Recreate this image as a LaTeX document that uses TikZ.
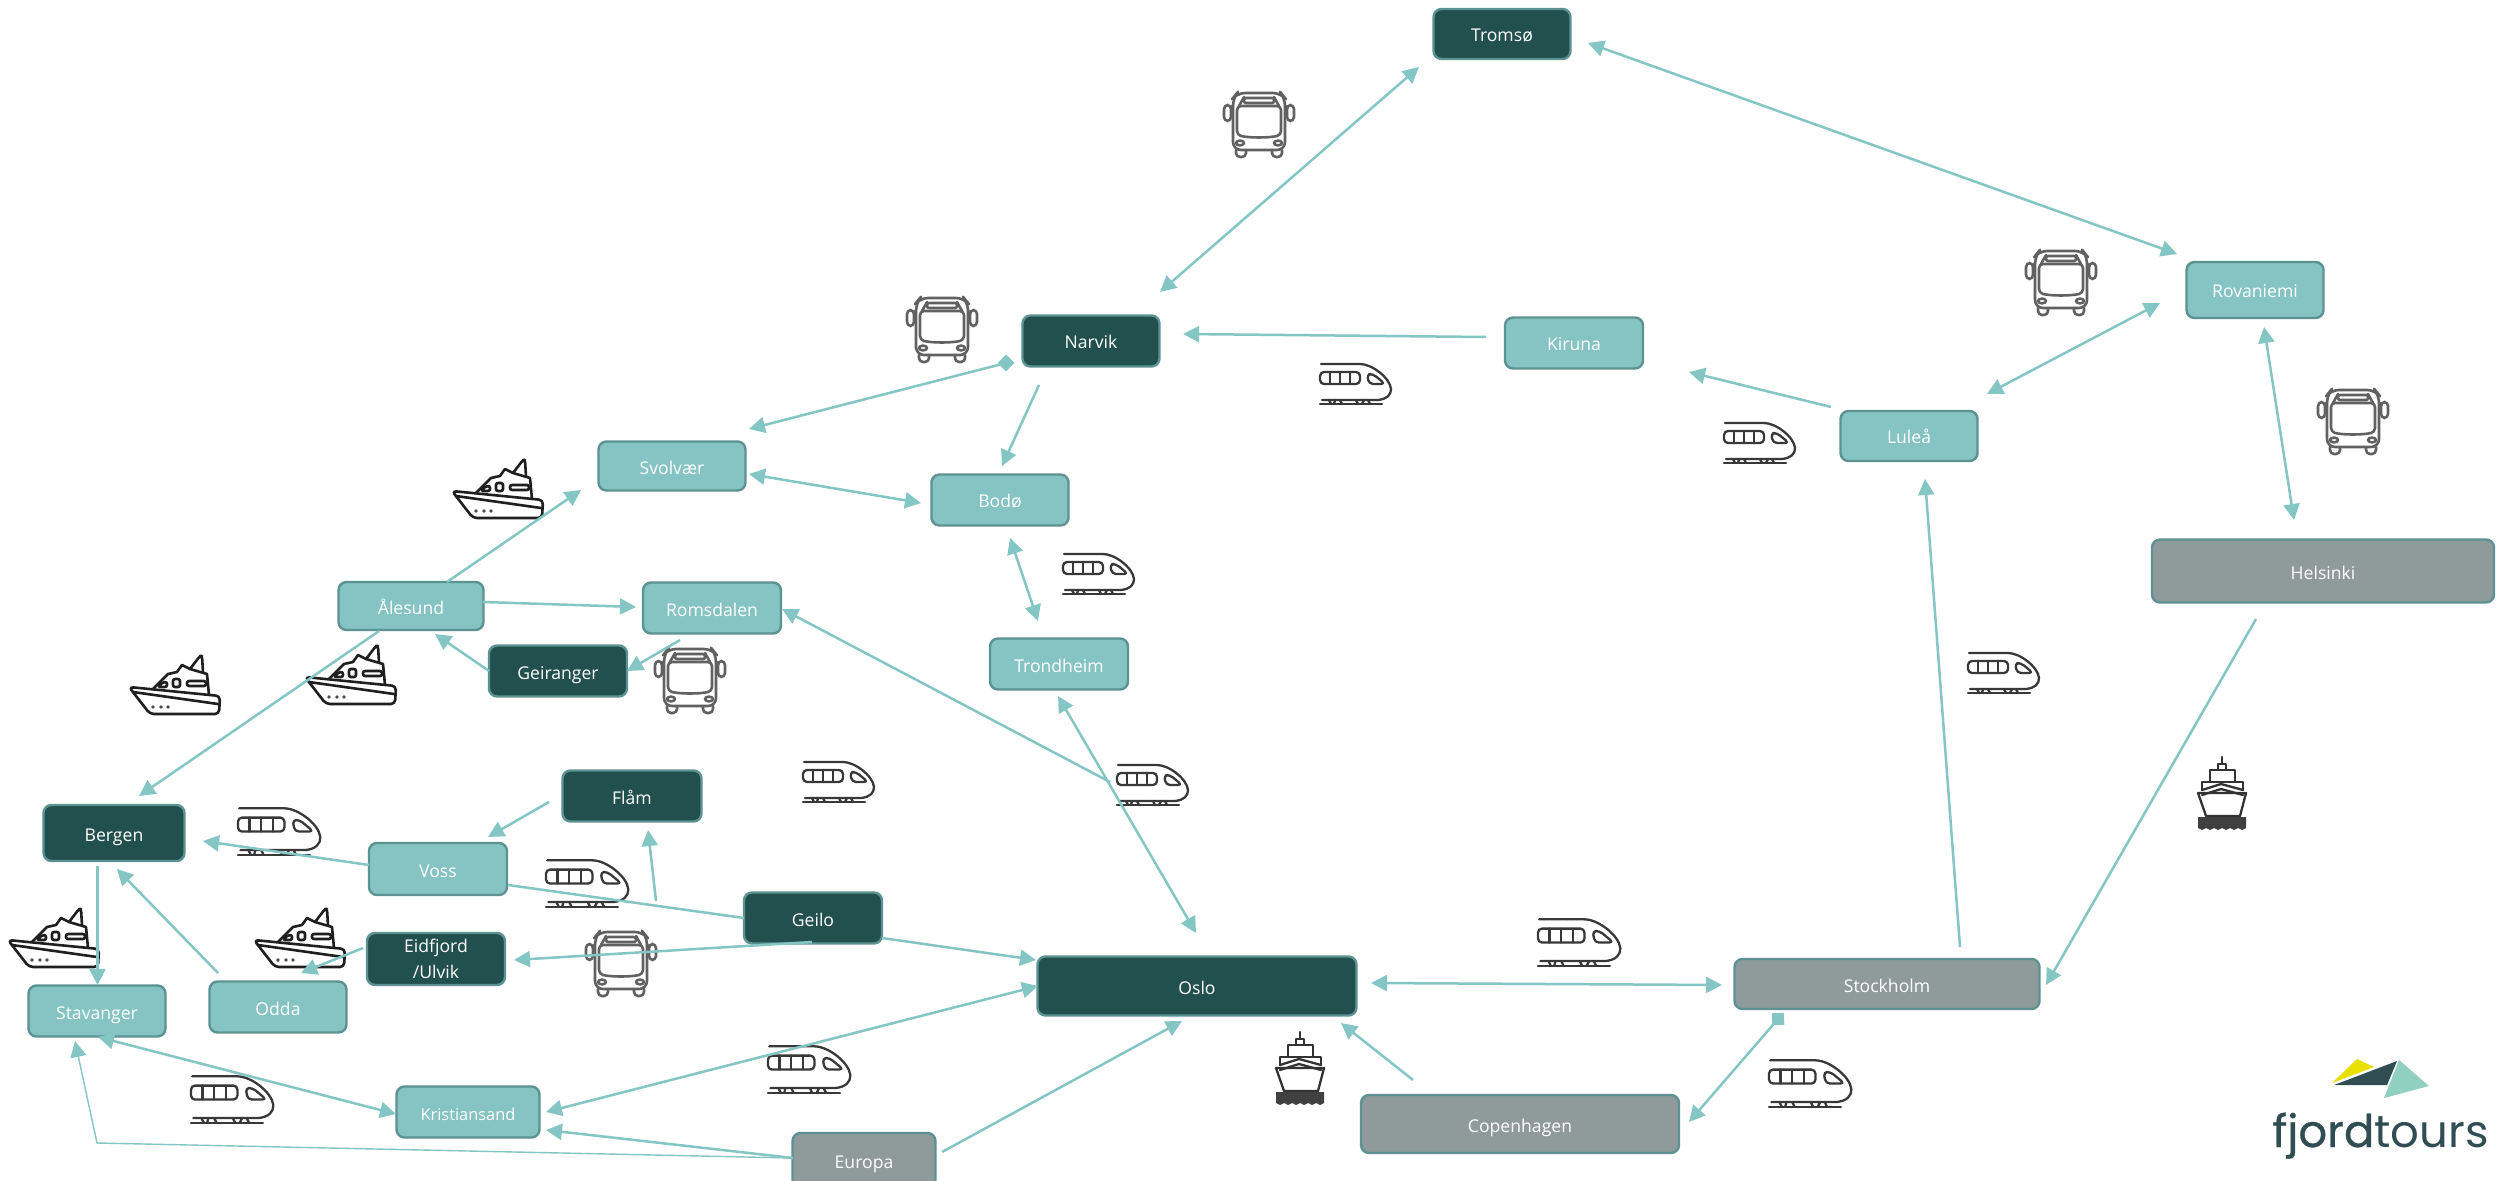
\documentclass[tikz,border=0pt]{standalone}
\usepackage{fontspec}
\setmainfont{Open Sans}
\newfontfamily\logoreg{Poppins}
\newfontfamily\logobold[FakeBold=0.6]{Poppins}
\usetikzlibrary{arrows.meta}
\definecolor{linkc}{HTML}{84C6C4}
\definecolor{darkf}{HTML}{22504F}
\definecolor{tealf}{HTML}{85C4C2}
\definecolor{greyf}{HTML}{8F9A9B}
\definecolor{edgec}{HTML}{5C9392}
\definecolor{logod}{HTML}{2F4D52}
\definecolor{logoy}{HTML}{E8E000}
\definecolor{logot}{HTML}{90D0C0}
\tikzset{
  box/.style 2 args={minimum width=#1*0.5pt,minimum height=#2*0.5pt},
  city/.style={draw=edgec,line width=1.2pt,rounded corners=4pt,inner sep=0pt,text=white,align=center,text height=8pt,text depth=0pt,font=\fontsize{8.8}{13}\selectfont},
  citydark/.style={city,fill=darkf},
  cityteal/.style={city,fill=tealf},
  citygrey/.style={city,fill=greyf},
  link/.style={draw=linkc,line width=1.25pt},
  oneway/.style={link,-{Triangle[length=8pt,width=8pt]}},
  twoway/.style={link,{Triangle[length=8pt,width=8pt]}-{Triangle[length=8pt,width=8pt]}},
  icon/.style={line width=1.15pt,line join=round,line cap=round,fill=none},
  pics/trainicon/.style={code={
    \begin{scope}[icon,draw=black!78]
      \draw (1,2) -- (40,2) .. controls (52,2) and (70,16) .. (71,27) .. controls (71,33) and (67,37) .. (58,38) -- (2,38);
      \draw[rounded corners=2pt] (0,10) rectangle (40,22);
      \draw (10,10) -- (10,22) (20,10) -- (20,22) (30,10) -- (30,22);
      \draw[rounded corners=2pt] (47,12) -- (53,12) -- (65,22) -- (49,22) -- cycle;
      \draw (0,42) -- (62,42);
      \draw (9,38) -- (11,42) (15,38) -- (14,42) (20,38) -- (22,42) (36,38) -- (38,42) (44,38) -- (42,42) (48,38) -- (50,42);
    \end{scope}}},
  pics/busicon/.style={code={
    \begin{scope}[icon,draw=black!62,line width=1.3pt]
      \draw[rounded corners=4pt] (9,58) -- (9,6) -- (13,1) -- (57,1) -- (61,6) -- (61,58) -- cycle;
      \draw[rounded corners=2pt] (0,13) rectangle (7,29);
      \draw[rounded corners=2pt] (63,13) rectangle (70,29);
      \draw (7,17) -- (9,13) (63,17) -- (61,13);
      \draw[rounded corners=1pt] (20,6) rectangle (50,11);
      \draw[rounded corners=2pt] (13,14) -- (57,14) -- (57,43) .. controls (45,46) and (25,46) .. (13,43) -- cycle;
      \draw (15,14) -- (20,5) (55,14) -- (50,5);
      \draw (16,51) ellipse (4 and 2.4);
      \draw (54,51) ellipse (4 and 2.4);
      \draw[rounded corners=2pt] (12,58) -- (12,65) -- (22,65) -- (22,58);
      \draw[rounded corners=2pt] (48,58) -- (48,65) -- (58,65) -- (58,58);
    \end{scope}}},
  pics/boaticon/.style={code={
    \begin{scope}[icon,draw=black!88,line width=1.3pt]
      \draw[rounded corners=2pt] (0,33) -- (91,42) -- (90,60) -- (21,60) -- cycle;
      \draw (4,38) -- (89,50);
      \draw (24,35) -- (39,20) -- (48,18) -- (53,11) -- (61,15) -- (78,20) -- (80,41);
      \draw[rounded corners=1pt] (61,15) -- (71,2) -- (73,2) -- (74,18);
      \draw[rounded corners=1pt] (29,33) -- (34,28) -- (38,28) -- (38,33) -- cycle;
      \draw[rounded corners=1pt] (44,25) rectangle (51,33);
      \draw[rounded corners=1pt] (58,27) rectangle (77,32);
      \fill[black!70] (24,53) circle (1.8) (32,53) circle (1.8) (39,53) circle (1.8);
    \end{scope}}},
  pics/linericon/.style={code={
    \begin{scope}[icon,draw=black!80]
      \draw (24,0) -- (24,7);
      \draw (20,13) -- (20,7) -- (28,7) -- (28,13);
      \draw (12,25) -- (12,13) -- (37,13) -- (37,25);
      \draw (4,33) -- (4,25) -- (45,25) -- (45,33);
      \draw (4,33) -- (23,27) -- (45,33);
      \draw (4,38) -- (23,32) -- (45,38);
      \draw (0,36) -- (48,36) -- (42,59) -- (8,59) -- cycle;
      \fill[black!75] (0,60) -- (48,60) -- (48,71) -- (44,73) -- (40,71) -- (36,73) -- (32,71) -- (28,73) -- (24,71) -- (20,73) -- (16,71) -- (12,73) -- (8,71) -- (4,73) -- (0,71) -- cycle;
    \end{scope}}},
}
\begin{document}
\begin{tikzpicture}[x=0.5pt,y=-0.5pt]
\useasboundingbox (0,0) rectangle (2503,1181);
\fill[white] (0,0) rectangle (2503,1181);

% icons
\foreach \px/\py in {1320/362,1724/421,1063/552,1968/651,1117/763,803/760}{\pic at (\px,\py) {trainicon};}
\foreach \px/\py in {238/806,546/858,191/1074,768/1044,1538/917,1769/1058}{\pic[scale=1.16] at (\px,\py) {trainicon};}
\foreach \px/\py in {1224/92,907/297,2026/250,2318/389,655/648,586/931}{\pic at (\px,\py) {busicon};}
\foreach \px/\py in {452/458,129/654,305/644,8/907,254/907}{\pic at (\px,\py) {boaticon};}
\foreach \px/\py in {2198/757,1276/1032}{\pic at (\px,\py) {linericon};}

% cities
\node[citydark,box={137}{50}] (tromso) at (1502,34) {Tromsø};
\node[citydark,box={137}{51}] (narvik) at (1091,341) {Narvik};
\node[cityteal,box={138}{51}] (kiruna) at (1574,343) {Kiruna};
\node[cityteal,box={137}{56}] (rovaniemi) at (2255,290) {Rovaniemi};
\node[cityteal,box={137}{50}] (lulea) at (1909,436) {Luleå};
\node[citygrey,box={342}{63}] (helsinki) at (2323,571) {Helsinki};
\node[cityteal,box={147}{49}] (svolvaer) at (672,466) {Svolvær};
\node[cityteal,box={137}{51}] (bodo) at (1000,500) {Bodø};
\node[cityteal,box={145}{48}] (alesund) at (411,606) {Ålesund};
\node[cityteal,box={138}{51}] (romsdalen) at (712,608) {Romsdalen};
\node[citydark,box={138}{51}] (geiranger) at (558,671) {Geiranger};
\node[citydark,box={139}{51}] (flam) at (632,796) {Flåm};
\node[citydark,box={141}{56}] (bergen) at (114,833) {Bergen};
\node[cityteal,box={138}{52}] (voss) at (438,869) {Voss};
\node[citydark,box={138}{52},text height={},text depth={}] (eidfjord) at (436,959) {Eidfjord\\/Ulvik};
\node[cityteal,box={137}{51}] (odda) at (278,1007) {Odda};
\node[cityteal,box={137}{51}] (stavanger) at (97,1011) {Stavanger};
\node[cityteal,box={143}{51},font=\fontsize{8.2}{13}\selectfont] (kristiansand) at (468,1112) {Kristiansand};
\node[citydark,box={138}{51}] (geilo) at (813,918) {Geilo};
\node[citydark,box={319}{59}] (oslo) at (1197,986) {Oslo};
\node[citygrey,box={143}{54}] (europa) at (864,1160) {Europa};
\node[citygrey,box={318}{58}] (copenhagen) at (1520,1124) {Copenhagen};
\node[citygrey,box={305}{50}] (stockholm) at (1887,984) {Stockholm};
\node[cityteal,box={138}{51}] (trondheim) at (1059,664) {Trondheim};

% connectors
\coordinate (southbend) at (97,1143);
\draw[twoway] ([shift={(69,-49)}]narvik.center) -- ([shift={(-83,33)}]tromso.center);
\draw[twoway] ([shift={(86,9)}]tromso.center) -- ([shift={(-78,-36)}]rovaniemi.center);
\draw[twoway] ([shift={(-95,13)}]rovaniemi.center) -- ([shift={(78,-42)}]lulea.center);
\draw[twoway] ([shift={(9,37)}]rovaniemi.center) -- ([shift={(-29,-51)}]helsinki.center);
\draw[oneway] ([shift={(-88,-6)}]kiruna.center) -- ([shift={(92,-7)}]narvik.center);
\draw[oneway] ([shift={(-78,-29)}]lulea.center) -- ([shift={(115,29)}]kiruna.center);
\draw[oneway] ([shift={(-85,22)}]narvik.center) -- ([shift={(77,-37)}]svolvaer.center);
\fill[linkc,shift={(1006,363)},rotate=45] (-6,-6) rectangle (6,6);
\draw[oneway] ([shift={(-52,44)}]narvik.center) -- ([shift={(2,-34)}]bodo.center);
\draw[twoway] ([shift={(77,8)}]svolvaer.center) -- ([shift={(-79,3)}]bodo.center);
\draw[twoway] ([shift={(10,38)}]bodo.center) -- ([shift={(-21,-43)}]trondheim.center);
\draw[twoway] ([shift={(-1,32)}]trondheim.center) -- ([shift={(-1,-53)}]oslo.center);
\draw[oneway] ([shift={(-87,-204)}]oslo.center) -- ([shift={(70,1)}]romsdalen.center);
\draw[oneway] ([shift={(36,-24)}]alesund.center) -- ([shift={(-91,24)}]svolvaer.center);
\draw[oneway] ([shift={(-32,25)}]alesund.center) -- ([shift={(25,-37)}]bergen.center);
\draw[oneway] ([shift={(72,-4)}]alesund.center) -- ([shift={(-76,-1)}]romsdalen.center);
\draw[oneway] ([shift={(-69,0)}]geiranger.center) -- ([shift={(24,28)}]alesund.center);
\draw[oneway] ([shift={(-32,32)}]romsdalen.center) -- ([shift={(69,0)}]geiranger.center);
\draw[oneway] ([shift={(-83,6)}]flam.center) -- ([shift={(50,-32)}]voss.center);
\draw[oneway] ([shift={(-69,-4)}]voss.center) -- ([shift={(89,8)}]bergen.center);
\draw[link] ([shift={(70,16)}]voss.center) -- ([shift={(-69,0)}]geilo.center);
\draw[oneway] ([shift={(-157,-17)}]geilo.center) -- ([shift={(16,34)}]flam.center);
\draw[oneway] ([shift={(-1,24)}]geilo.center) -- ([shift={(78,1)}]eidfjord.center);
\draw[oneway] ([shift={(69,20)}]geilo.center) -- ([shift={(-161,-26)}]oslo.center);
\draw[oneway] ([shift={(-73,-11)}]eidfjord.center) -- ([shift={(23,-34)}]odda.center);
\draw[oneway] ([shift={(-60,-34)}]odda.center) -- ([shift={(3,36)}]bergen.center);
\draw[oneway] ([shift={(-16.5,33)}]bergen.center) -- ([shift={(0.5,-26)}]stavanger.center);
\draw[twoway] ([shift={(1,26)}]stavanger.center) -- ([shift={(-72,2)}]kristiansand.center);
\draw[twoway] ([shift={(78,0)}]kristiansand.center) -- ([shift={(-159,0)}]oslo.center);
\draw[oneway] ([shift={(-71,-2)}]europa.center) -- ([shift={(78,18)}]kristiansand.center);
\draw[draw=linkc,line width=0.7pt,-{Triangle[length=8pt,width=8pt]}] ([shift={(-71,-2)}]europa.center) -- (southbend) -- ([shift={(-22,30)}]stavanger.center);
\draw[oneway] ([shift={(78,-8)}]europa.center) -- ([shift={(-15,35)}]oslo.center);
\draw[oneway] ([shift={(-107,-44)}]copenhagen.center) -- ([shift={(144,37)}]oslo.center);
\draw[twoway] ([shift={(174,-3)}]oslo.center) -- ([shift={(-165,1)}]stockholm.center);
\draw[oneway] ([shift={(-109,35)}]stockholm.center) -- ([shift={(169,-2)}]copenhagen.center);
\fill[linkc,shift={(1778,1019)},rotate=3] (-6,-6) rectangle (6,6);
\draw[oneway] ([shift={(73,-37)}]stockholm.center) -- ([shift={(16,43)}]lulea.center);
\draw[oneway] ([shift={(-67,48)}]helsinki.center) -- ([shift={(159,1)}]stockholm.center);

% logo
\fill[logoy] (2332,1083) -- (2357,1059) -- (2374,1067) -- cycle;
\fill[logod] (2334,1085) -- (2397,1061) -- (2387,1085) -- cycle;
\fill[logot] (2399,1060) -- (2429,1086) -- (2384,1098) -- cycle;
\node[anchor=base west,inner sep=0pt,text=logod,font=\fontsize{22.5}{25}\selectfont] (logotext) at (2272,1147) {{\logobold fjord}{\logoreg tours}};
\end{tikzpicture}
\end{document}
